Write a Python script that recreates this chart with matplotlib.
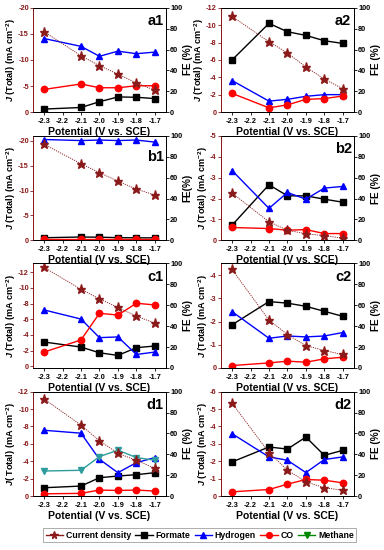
import matplotlib
matplotlib.use("Agg")
import matplotlib.pyplot as plt
from matplotlib.lines import Line2D

plt.rcParams["font.family"] = ["Liberation Sans", "DejaVu Sans"]
plt.rcParams["font.weight"] = "bold"
plt.rcParams["axes.labelweight"] = "bold"
plt.rcParams["axes.unicode_minus"] = False
plt.rcParams["mathtext.fontset"] = "custom"
plt.rcParams["mathtext.rm"] = "Liberation Sans:bold"
plt.rcParams["mathtext.it"] = "Liberation Sans:bold:italic"
plt.rcParams["mathtext.bf"] = "Liberation Sans:bold"

DARKRED = "#8b1a1a"
TEAL = "#2e9c9c"

potential = [-2.3, -2.1, -2.0, -1.9, -1.8, -1.7]
x_ticks = [-2.3, -2.2, -2.1, -2.0, -1.9, -1.8, -1.7]

# current densities (mA cm-2), plotted as negative values
a1_j = [-15.4, -10.8, -8.9, -7.3, -5.6, -4.2]
a2_j = [-11.0, -8.1, -6.8, -5.2, -3.8, -2.7]
b1_j = [-19.3, -15.4, -13.6, -11.9, -10.3, -9.1]
b2_j = [-2.26, -0.89, -0.48, -0.32, -0.22, -0.11]
c1_j = [-12.6, -9.8, -8.6, -7.5, -6.4, -5.5]
c2_j = [-4.24, -2.06, -1.44, -0.96, -0.75, -0.58]
d1_j = [-11.15, -8.15, -6.35, -4.92, -4.1, -3.2]
d2_j = [-5.33, -2.5, -1.49, -0.82, -0.48, -0.34]

# Faradaic efficiencies (%)
a1_formate = [3.0, 4.5, 10.0, 14.6, 14.3, 13.0]
a1_h2 = [70.5, 63.0, 53.5, 58.4, 56.0, 57.5]
a1_co = [21.8, 27.0, 23.4, 23.4, 25.3, 25.3]

a2_formate = [50.0, 85.0, 77.0, 73.5, 68.4, 65.8]
a2_h2 = [30.3, 10.6, 12.3, 15.2, 16.8, 16.8]
a2_co = [18.0, 4.2, 7.0, 12.3, 13.0, 15.5]

b1_formate = [2.5, 3.2, 3.0, 2.6, 2.4, 2.4]
b1_h2 = [96.5, 95.5, 96.0, 95.5, 96.0, 94.0]
b1_co = [1.0, 1.0, 1.0, 1.0, 1.0, 1.0]

b2_formate = [14.5, 53.2, 42.6, 42.6, 39.4, 36.5]
b2_h2 = [66.8, 30.6, 45.8, 39.4, 50.0, 51.6]
b2_co = [12.3, 11.3, 9.7, 10.3, 6.5, 6.5]

c1_formate = [24.8, 20.0, 14.5, 12.0, 19.4, 21.0]
c1_h2 = [55.5, 46.8, 29.0, 29.7, 12.9, 15.2]
c1_co = [15.2, 26.8, 52.3, 50.6, 61.9, 60.3]

c2_formate = [41.3, 63.5, 62.0, 59.0, 54.2, 49.4]
c2_h2 = [53.9, 28.4, 30.6, 29.7, 30.6, 33.9]
c2_co = [2.3, 4.8, 6.5, 5.5, 8.7, 10.3]

d1_formate = [8.0, 9.6, 17.6, 19.2, 20.5, 22.4]
d1_h2 = [63.0, 60.2, 35.2, 22.4, 32.0, 36.8]
d1_co = [2.2, 2.6, 5.8, 5.4, 5.8, 4.8]
d1_ch4 = [24.0, 24.7, 37.8, 43.9, 36.9, 34.3]

d2_formate = [32.7, 47.0, 45.0, 56.5, 39.0, 43.8]
d2_h2 = [59.7, 37.5, 34.3, 22.5, 35.0, 37.5]
d2_co = [4.1, 6.3, 11.4, 15.9, 15.2, 12.7]

panels = [
    ("a1", a1_j, a1_formate, a1_h2, a1_co, None, (0, -20), 5, "FE (%)"),
    ("a2", a2_j, a2_formate, a2_h2, a2_co, None, (0, -12), 2, "FE (%)"),
    ("b1", b1_j, b1_formate, b1_h2, b1_co, None, (0, -21), 5, "FE(%)"),
    ("b2", b2_j, b2_formate, b2_h2, b2_co, None, (0, -5), 1, "FE (%)"),
    ("c1", c1_j, c1_formate, c1_h2, c1_co, None, (0.2, -13.1), 2, "FE (%)"),
    ("c2", c2_j, c2_formate, c2_h2, c2_co, None, (0, -4.5), 1, "FE (%)"),
    ("d1", d1_j, d1_formate, d1_h2, d1_co, d1_ch4, (0, -12), 2, "FE (%)"),
    ("d2", d2_j, d2_formate, d2_h2, d2_co, None, (0, -6), 1, "FE (%)"),
]

fig = plt.figure(figsize=(3.84, 5.5), dpi=100)

lefts = [0.086, 0.5755]
bottoms = [0.796, 0.563, 0.331, 0.098]
W, H = 0.346, 0.19

for i, (name, j, fmt, h2, co, ch4, jlim, jstep, fe_label) in enumerate(panels):
    ax = fig.add_axes([lefts[i % 2], bottoms[i // 2], W, H])
    ax2 = ax.twinx()
    ax.set_zorder(ax2.get_zorder() + 1)
    ax.patch.set_visible(False)

    ax.plot(potential, j, color=DARKRED, ls=(0, (1.5, 1.2)), lw=0.6,
            marker="*", ms=6.5, mfc=DARKRED, mec=DARKRED)
    ax2.plot(potential, fmt, color="black", lw=1, marker="s", ms=4.3)
    ax2.plot(potential, h2, color="#0000ff", lw=1, marker="^", ms=4.8)
    ax2.plot(potential, co, color="#ff0000", lw=1, marker="o", ms=4.6)
    if ch4 is not None:
        ax2.plot(potential, ch4, color=TEAL, lw=1, marker="v", ms=4.8)

    ax.set_xlim(-2.36, -1.64)
    ax.set_xticks(x_ticks)
    ax.set_xticklabels([f"{v:.1f}" for v in x_ticks])
    ax.set_ylim(*jlim)
    nt = int(abs(jlim[1]) // jstep)
    ax.set_yticks([-k * jstep for k in range(nt + 1)])
    ax2.set_ylim(0, 100)
    ax2.set_yticks(range(0, 101, 20))

    ax.tick_params(axis="x", labelsize=5.3, length=2, width=0.6, pad=2)
    ax.tick_params(axis="y", labelsize=5.3, length=2, width=0.6, pad=1,
                   colors=DARKRED)
    ax2.tick_params(axis="y", labelsize=5.3, length=2, width=0.6, pad=1)
    for s in ax.spines.values():
        s.set_linewidth(0.7)
    for s in ax2.spines.values():
        s.set_linewidth(0.7)
    ax2.spines["left"].set_color(DARKRED)
    ax.spines["left"].set_color(DARKRED)

    if name == "d1":
        jl = r"$J$( Total) (mA cm$^{-2}$)"
    else:
        jl = r"$J$ (Total) (mA cm$^{-2}$)"
    ax.set_ylabel(jl, fontsize=6.6, labelpad=0)
    ax2.set_ylabel(fe_label, fontsize=7.2, labelpad=0.5)
    ax.set_xlabel("Potential (V vs. SCE)", fontsize=7.5, labelpad=1.5)

    label_y = 0.8 if name == "b1" else 0.87
    ax.text(0.92, label_y, name, transform=ax.transAxes, fontsize=10.5,
            fontweight="bold", ha="center", va="center")

handles = [
    Line2D([], [], color=DARKRED, lw=1, marker="*", ms=5.5),
    Line2D([], [], color="black", lw=1, marker="s", ms=3.8),
    Line2D([], [], color="#0000ff", lw=1, marker="^", ms=4.3),
    Line2D([], [], color="#ff0000", lw=1, marker="o", ms=4.2),
    Line2D([], [], color="#008800", lw=1, marker="v", ms=4.3),
]
labels = ["Current density", "Formate", "Hydrogen", "CO", "Methane"]
leg = fig.legend(handles, labels, loc="center", bbox_to_anchor=(0.52, 0.027),
                 ncol=5, fontsize=6.3, frameon=True, fancybox=False,
                 handlelength=2.0, handletextpad=0.3, columnspacing=0.5,
                 borderpad=0.3, edgecolor="#888888")
leg.get_frame().set_linewidth(0.6)

fig.savefig("out.png", dpi=100)
